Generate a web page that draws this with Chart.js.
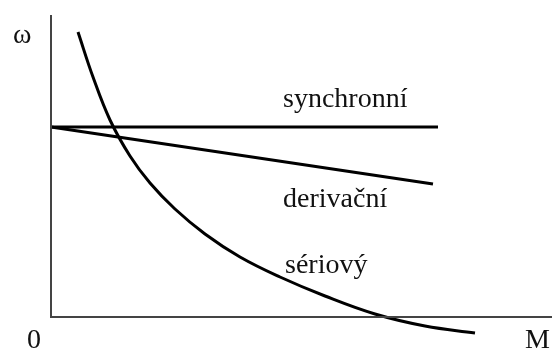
<!DOCTYPE html>
<html>
<head>
<meta charset="utf-8">
<script src="https://cdn.jsdelivr.net/npm/chart.js@4/dist/chart.umd.min.js"></script>
<style>
html,body{margin:0;padding:0;background:#fff;}
#wrap{width:552px;height:350px;position:relative;}
</style>
</head>
<body>
<div id="wrap"><canvas id="c"></canvas></div>
<script>
// Schematic characteristic curves (arbitrary units): torque M on x, speed ω on y
const synchronX = [0, 7.74];
const synchronY = [3.8, 3.8];
const derivX = [0, 7.64];
const derivY = [3.8, 2.66];
const serialX = [0.54, 0.84, 1.18, 1.58, 1.98, 2.48, 3.08, 3.78, 4.58, 5.48, 6.48, 7.48, 8.48];
const serialY = [5.70, 4.80, 3.94, 3.22, 2.68, 2.16, 1.66, 1.20, 0.80, 0.42, 0.06, -0.18, -0.32];
const curveLabels = ['synchronní', 'derivační', 'sériový'];
const labelX = [4.64, 4.64, 4.68];
const labelY = [4.2, 2.2, 0.88];
const axisLabels = ['ω', '0', 'M'];
const axisLabelX = [-0.76, -0.48, 9.48];
const axisLabelY = [5.48, -0.62, -0.62];
const yAxisTop = 6.04;

const toPts = (xs, ys) => xs.map((x, i) => ({x: x, y: ys[i]}));

const axesAndText = {
  id: 'axesAndText',
  afterDatasetsDraw(chart) {
    const ctx = chart.ctx, xs = chart.scales.x, ys = chart.scales.y;
    ctx.save();
    ctx.strokeStyle = '#444';
    ctx.lineWidth = 2;
    ctx.beginPath();
    ctx.moveTo(xs.getPixelForValue(0), ys.getPixelForValue(yAxisTop));
    ctx.lineTo(xs.getPixelForValue(0), ys.getPixelForValue(0));
    ctx.lineTo(xs.getPixelForValue(xs.max), ys.getPixelForValue(0));
    ctx.stroke();
    ctx.fillStyle = '#111';
    ctx.font = '28px "Liberation Serif", "Times New Roman", serif';
    ctx.textBaseline = 'alphabetic';
    ctx.textAlign = 'left';
    curveLabels.forEach((t, i) => {
      ctx.fillText(t, xs.getPixelForValue(labelX[i]), ys.getPixelForValue(labelY[i]));
    });
    axisLabels.forEach((t, i) => {
      ctx.fillText(t, xs.getPixelForValue(axisLabelX[i]), ys.getPixelForValue(axisLabelY[i]));
    });
    ctx.restore();
  }
};

const common = {borderColor: '#000', borderWidth: 3, pointRadius: 0, fill: false};

new Chart(document.getElementById('c'), {
  type: 'line',
  data: {
    datasets: [
      Object.assign({label: curveLabels[0], data: toPts(synchronX, synchronY), tension: 0}, common),
      Object.assign({label: curveLabels[1], data: toPts(derivX, derivY), tension: 0}, common),
      Object.assign({label: curveLabels[2], data: toPts(serialX, serialY), tension: 0.4}, common)
    ]
  },
  options: {
    responsive: true,
    maintainAspectRatio: false,
    animation: false,
    layout: {padding: 0},
    plugins: {legend: {display: false}, tooltip: {enabled: false}},
    scales: {
      x: {type: 'linear', display: false, min: -1.02, max: 10.02},
      y: {type: 'linear', display: false, min: -0.66, max: 6.34}
    }
  },
  plugins: [axesAndText]
});
</script>
</body>
</html>
